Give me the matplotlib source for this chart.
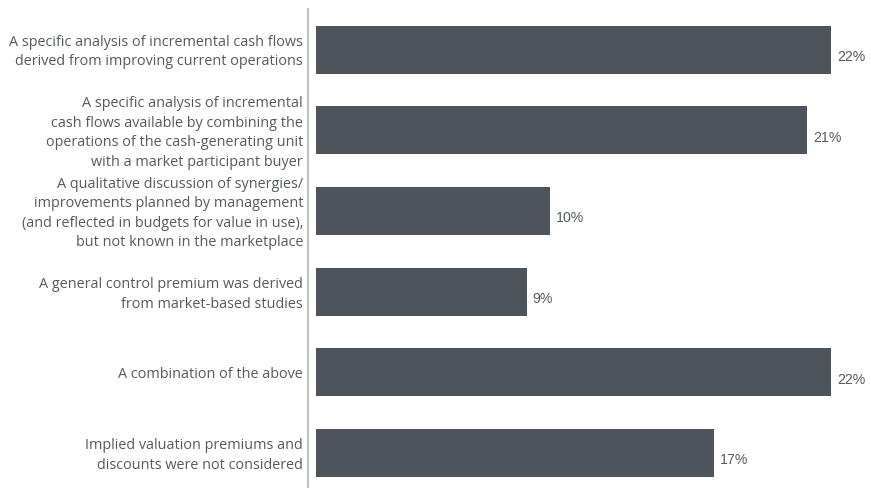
import matplotlib
matplotlib.use("Agg")
import matplotlib.pyplot as plt

categories = [
    "A specific analysis of incremental cash flows\nderived from improving current operations",
    "A specific analysis of incremental\ncash flows available by combining the\noperations of the cash-generating unit\nwith a market participant buyer",
    "A qualitative discussion of synergies/\nimprovements planned by management\n(and reflected in budgets for value in use),\nbut not known in the marketplace",
    "A general control premium was derived\nfrom market-based studies",
    "A combination of the above",
    "Implied valuation premiums and\ndiscounts were not considered",
]
values = [22, 21, 10, 9, 22, 17]
value_labels = ["22%", "21%", "10%", "9%", "22%", "17%"]

W, H = 871, 489
fig = plt.figure(figsize=(W / 100, H / 100), dpi=100)
ax_left, ax_top, ax_bot = 308, 10, 488
ax = fig.add_axes([ax_left / W, 1 - ax_bot / H, 1 - ax_left / W, (ax_bot - ax_top) / H])

px_per_unit = 23.4
x0_px = 316
spacing = 80.7
c0 = 50.5
ax.set_xlim(-(x0_px - ax_left) / px_per_unit, (W - x0_px) / px_per_unit)
ax.set_ylim((ax_bot - c0) / spacing, -(c0 - ax_top) / spacing)

ypos = list(range(len(values)))
bar_color = "#4d545c"
ax.barh(ypos, values, height=48 / spacing, color=bar_color, left=0)

for y, v, lab in zip(ypos, values, value_labels):
    ax.text(v + 6 / px_per_unit, y + 0.08, lab, va="center", ha="left",
            fontsize=10.2, color="#555a60", family="Liberation Sans")

for y, c in zip(ypos, categories):
    ax.text(-(x0_px - 303) / px_per_unit, y + 0.02, c, ha="right", va="center",
            fontsize=10.4, color="#555a60", family="Open Sans", linespacing=1.42)

for s in ["top", "right", "bottom"]:
    ax.spines[s].set_visible(False)
ax.spines["left"].set_color("#c0c0c0")
ax.spines["left"].set_linewidth(1.5)
ax.set_xticks([])
ax.set_yticks([])

fig.savefig("out.png", dpi=100)
